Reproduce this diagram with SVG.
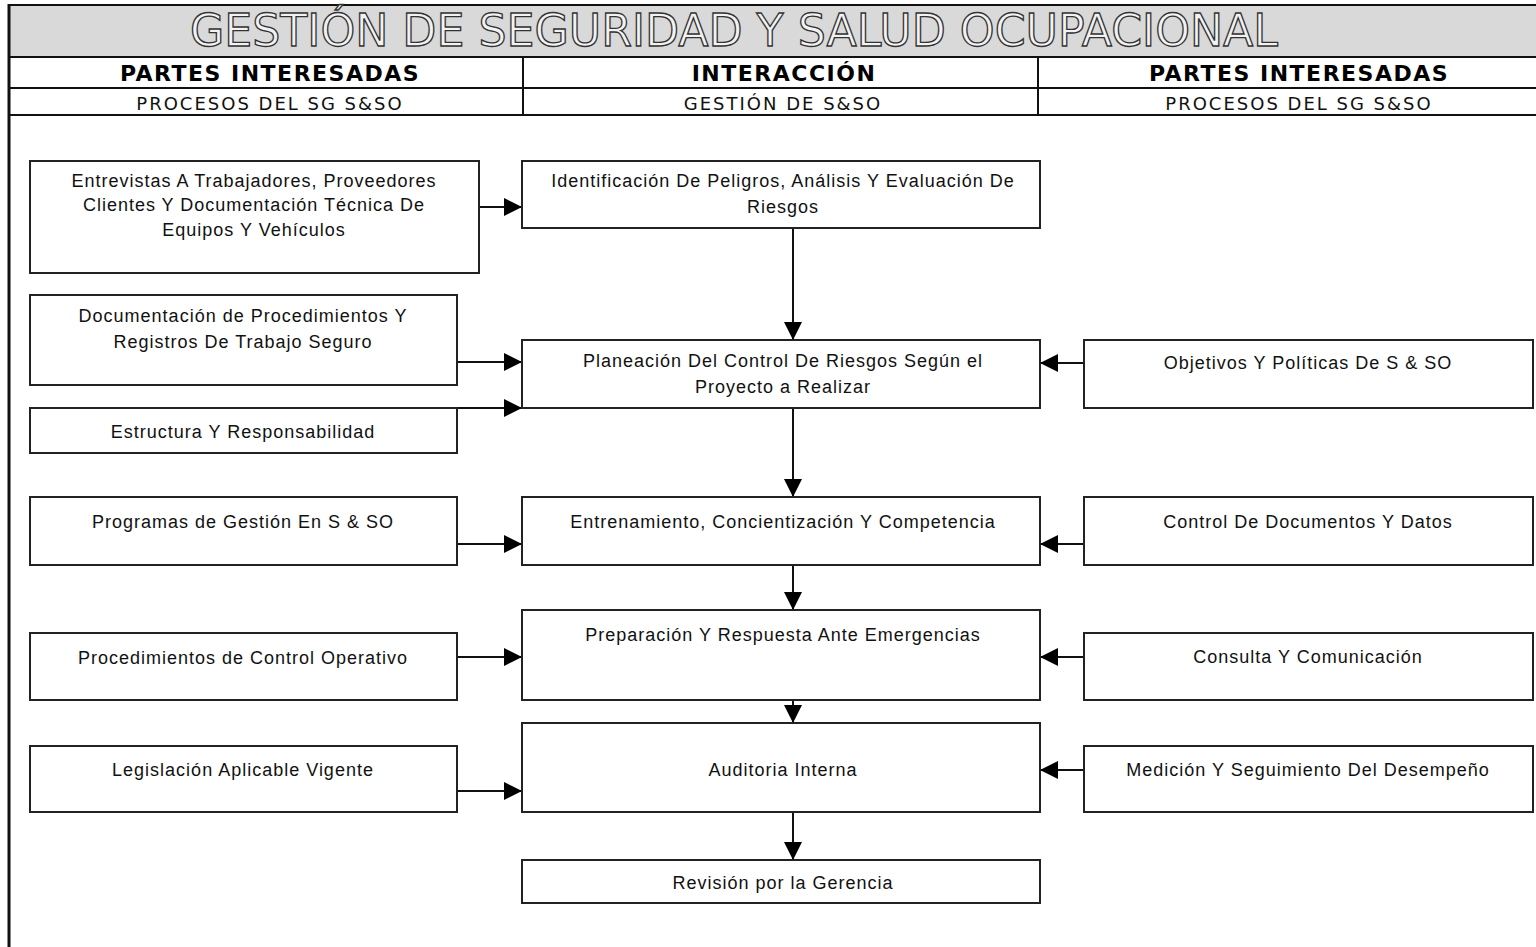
<svg xmlns="http://www.w3.org/2000/svg" width="1536" height="947" viewBox="0 0 1536 947">
  <style>
    .frame { stroke: #111; stroke-width: 2; fill: none; }
    .box { fill: #fff; stroke: #222; stroke-width: 2; }
    .lbl { font-family: "Liberation Sans", Arial, sans-serif; font-size: 18px; letter-spacing: 1px; fill: #111; text-anchor: middle; }
    .hd { font-family: "DejaVu Sans", Verdana, sans-serif; font-weight: bold; font-size: 22px; letter-spacing: 1.5px; fill: #000; text-anchor: middle; }
    .sub { font-family: "DejaVu Sans", Verdana, sans-serif; font-size: 18px; letter-spacing: 2px; fill: #111; text-anchor: middle; }
    .title { font-family: "DejaVu Sans", Verdana, sans-serif; font-size: 44px; fill: #f2f2f2; stroke: #333; stroke-width: 1.3; }
    .conn { stroke: #111; stroke-width: 2; fill: none; marker-end: url(#arrow); }
  </style>
  <defs>
    <marker id="arrow" viewBox="0 0 20 20" refX="20" refY="10" markerWidth="19" markerHeight="18" markerUnits="userSpaceOnUse" orient="auto">
      <path d="M0,0 L20,10 L0,20 z" fill="#000"/>
    </marker>
  </defs>

  <rect width="1536" height="947" fill="#fff"/>

  <!-- Header table -->
  <g id="header">
    <rect x="9" y="5" width="1540" height="52" fill="#d9d9d9"/>
    <line class="frame" x1="8" y1="5" x2="1536" y2="5"/>
    <line class="frame" x1="8" y1="57" x2="1536" y2="57"/>
    <line class="frame" x1="8" y1="88" x2="1536" y2="88"/>
    <line class="frame" x1="8" y1="115" x2="1536" y2="115"/>
    <line class="frame" x1="523" y1="57" x2="523" y2="115"/>
    <line class="frame" x1="1038" y1="57" x2="1038" y2="115"/>
    <line x1="9" y1="4" x2="9" y2="947" stroke="#111" stroke-width="3"/>
    <text class="title" x="190" y="46" textLength="1088" lengthAdjust="spacingAndGlyphs">GESTIÓN DE SEGURIDAD Y SALUD OCUPACIONAL</text>
    <text class="hd" x="270" y="81">PARTES INTERESADAS</text>
    <text class="hd" x="784" y="81">INTERACCIÓN</text>
    <text class="hd" x="1299" y="81">PARTES INTERESADAS</text>
    <text class="sub" x="270" y="110">PROCESOS DEL SG S&amp;SO</text>
    <text class="sub" x="783" y="110">GESTIÓN DE S&amp;SO</text>
    <text class="sub" x="1299" y="110">PROCESOS DEL SG S&amp;SO</text>
  </g>

  <!-- Connectors -->
  <g id="connectors">
    <line class="conn" x1="479" y1="207" x2="522" y2="207"/>
    <line class="conn" x1="793" y1="228" x2="793" y2="340"/>
    <line class="conn" x1="457" y1="362" x2="522" y2="362"/>
    <line class="conn" x1="457" y1="408" x2="522" y2="408"/>
    <line class="conn" x1="1084" y1="363" x2="1040" y2="363"/>
    <line class="conn" x1="793" y1="408" x2="793" y2="497"/>
    <line class="conn" x1="457" y1="544" x2="522" y2="544"/>
    <line class="conn" x1="1084" y1="544" x2="1040" y2="544"/>
    <line class="conn" x1="793" y1="565" x2="793" y2="610"/>
    <line class="conn" x1="457" y1="657" x2="522" y2="657"/>
    <line class="conn" x1="1084" y1="657" x2="1040" y2="657"/>
    <line class="conn" x1="793" y1="700" x2="793" y2="723"/>
    <line class="conn" x1="457" y1="791" x2="522" y2="791"/>
    <line class="conn" x1="1084" y1="770" x2="1040" y2="770"/>
    <line class="conn" x1="793" y1="812" x2="793" y2="860"/>
  </g>

  <!-- Left column -->
  <g id="entrevistas">
    <rect class="box" x="30" y="161" width="449" height="112"/>
    <text class="lbl" x="254" y="187">Entrevistas A Trabajadores, Proveedores</text>
    <text class="lbl" x="254" y="211">Clientes  Y Documentación Técnica De</text>
    <text class="lbl" x="254" y="236">Equipos Y Vehículos</text>
  </g>
  <g id="documentacion">
    <rect class="box" x="30" y="295" width="427" height="90"/>
    <text class="lbl" x="243" y="322">Documentación de Procedimientos Y</text>
    <text class="lbl" x="243" y="348">Registros De Trabajo Seguro</text>
  </g>
  <g id="estructura">
    <rect class="box" x="30" y="408" width="427" height="45"/>
    <text class="lbl" x="243" y="438">Estructura Y Responsabilidad</text>
  </g>
  <g id="programas">
    <rect class="box" x="30" y="497" width="427" height="68"/>
    <text class="lbl" x="243" y="528">Programas de Gestión En S &amp; SO</text>
  </g>
  <g id="procedimientos">
    <rect class="box" x="30" y="633" width="427" height="67"/>
    <text class="lbl" x="243" y="664">Procedimientos de Control Operativo</text>
  </g>
  <g id="legislacion">
    <rect class="box" x="30" y="746" width="427" height="66"/>
    <text class="lbl" x="243" y="776">Legislación Aplicable Vigente</text>
  </g>

  <!-- Centre column -->
  <g id="identificacion">
    <rect class="box" x="522" y="161" width="518" height="67"/>
    <text class="lbl" x="783" y="187">Identificación De Peligros, Análisis Y Evaluación  De</text>
    <text class="lbl" x="783" y="213">Riesgos</text>
  </g>
  <g id="planeacion">
    <rect class="box" x="522" y="340" width="518" height="68"/>
    <text class="lbl" x="783" y="367">Planeación Del Control De Riesgos Según el</text>
    <text class="lbl" x="783" y="393">Proyecto a Realizar</text>
  </g>
  <g id="entrenamiento">
    <rect class="box" x="522" y="497" width="518" height="68"/>
    <text class="lbl" x="783" y="528">Entrenamiento, Concientización Y Competencia</text>
  </g>
  <g id="preparacion">
    <rect class="box" x="522" y="610" width="518" height="90"/>
    <text class="lbl" x="783" y="641">Preparación Y Respuesta Ante Emergencias</text>
  </g>
  <g id="auditoria">
    <rect class="box" x="522" y="723" width="518" height="89"/>
    <text class="lbl" x="783" y="776">Auditoria Interna</text>
  </g>
  <g id="revision">
    <rect class="box" x="522" y="860" width="518" height="43"/>
    <text class="lbl" x="783" y="889">Revisión por la Gerencia</text>
  </g>

  <!-- Right column -->
  <g id="objetivos">
    <rect class="box" x="1084" y="340" width="449" height="68"/>
    <text class="lbl" x="1308" y="369">Objetivos Y Políticas De S &amp; SO</text>
  </g>
  <g id="control">
    <rect class="box" x="1084" y="497" width="449" height="68"/>
    <text class="lbl" x="1308" y="528">Control De Documentos Y Datos</text>
  </g>
  <g id="consulta">
    <rect class="box" x="1084" y="633" width="449" height="67"/>
    <text class="lbl" x="1308" y="663">Consulta Y Comunicación</text>
  </g>
  <g id="medicion">
    <rect class="box" x="1084" y="746" width="449" height="66"/>
    <text class="lbl" x="1308" y="776">Medición Y Seguimiento Del Desempeño</text>
  </g>
</svg>
